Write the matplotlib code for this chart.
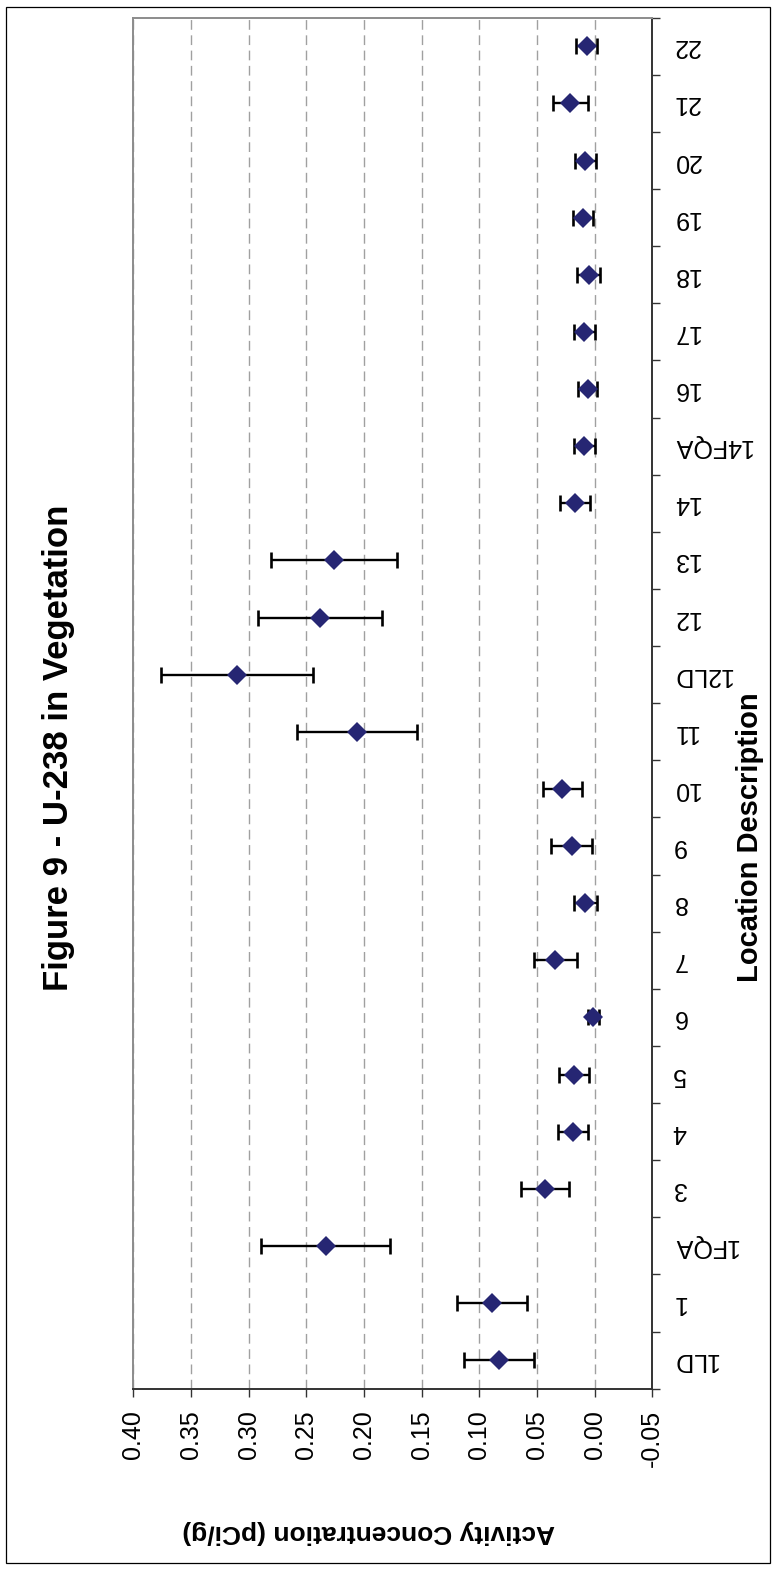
import numpy as np
import matplotlib
matplotlib.use("Agg")
from matplotlib import pyplot as plt
from matplotlib.patches import Rectangle

plt.rcParams["font.family"] = ["Liberation Sans", "DejaVu Sans"]

# sampling locations, bottom to top
locations = ["1LD", "1", "1FQA", "3", "4", "5", "6", "7", "8", "9", "10", "11",
             "12LD", "12", "13", "14", "14FQA", "16", "17", "18", "19", "20", "21", "22"]
# U-238 activity concentration (pCi/g) and its uncertainty
activity = [0.083, 0.089, 0.233, 0.043, 0.019, 0.018, 0.001, 0.034, 0.008, 0.020, 0.028, 0.206,
            0.310, 0.238, 0.226, 0.017, 0.009, 0.006, 0.009, 0.005, 0.010, 0.008, 0.021, 0.007]
uncertainty = [0.030, 0.030, 0.056, 0.021, 0.013, 0.013, 0.005, 0.019, 0.010, 0.018, 0.017, 0.052,
               0.066, 0.054, 0.055, 0.013, 0.009, 0.008, 0.009, 0.010, 0.009, 0.009, 0.015, 0.009]
value_ticks = [0.40, 0.35, 0.30, 0.25, 0.20, 0.15, 0.10, 0.05, 0.00, -0.05]

W, H = 776, 1570
fig = plt.figure(figsize=(W / 100, H / 100), dpi=100)

# page frame
fig.patches.append(Rectangle((6 / W, 1 - 1563 / H), (770 - 6) / W, (1563 - 7) / H,
                             transform=fig.transFigure, fill=False, edgecolor="black",
                             linewidth=0.9))

left, right, top, bottom = 133.3, 652.3, 17.7, 1388.7
ax = fig.add_axes([left / W, 1 - bottom / H, (right - left) / W, (bottom - top) / H])

pos = np.arange(len(locations))
ax.errorbar(activity, pos, xerr=uncertainty, fmt="none", ecolor="black", elinewidth=1.7,
            capsize=5.6, capthick=1.9, zorder=3)
ax.plot(activity, pos, linestyle="none", marker="D", color="#262673", markersize=10,
        markeredgewidth=0, zorder=4)

# value axis runs right to left
ax.set_xlim(0.40, -0.05)
ax.set_xticks(value_ticks)
ax.set_xticklabels([f"{v:.2f}" for v in value_ticks], rotation=90)
ax.tick_params(axis="x", direction="out", length=5.8, width=1.0, color="#333333",
               pad=9.5, labelsize=18)
ax.grid(axis="x", color="#a0a0a0", linestyle=(0, (7, 4)), linewidth=1.0)

# categories on the right, ticks between them
ax.set_ylim(-0.5, len(locations) - 0.5)
ax.yaxis.tick_right()
ax.set_yticks(np.arange(len(locations) + 1) - 0.5)
ax.set_yticklabels([])
ax.set_yticks(pos, minor=True)
ax.set_yticklabels(locations, minor=True, rotation=180, va="center")
ax.tick_params(axis="y", which="major", direction="out", length=5.8, width=1.0,
               color="#333333")
ax.tick_params(axis="y", which="minor", length=0, pad=14.5, labelsize=18)

for side in ("left", "top"):
    ax.spines[side].set_color("#8c8c8c")
    ax.spines[side].set_linewidth(1.4)
for side in ("right", "bottom"):
    ax.spines[side].set_color("#333333")
    ax.spines[side].set_linewidth(1.4)

fig.text(59 / W, 1 - 748 / H, "Figure 9 - U-238 in Vegetation", rotation=90,
         ha="center", va="center", fontsize=25, fontweight="bold")
fig.text(750 / W, 1 - 837 / H, "Location Description", rotation=90,
         ha="center", va="center", fontsize=21, fontweight="bold")
fig.text(369 / W, 1 - 1532 / H, "Activity Concentration (pCi/g)", rotation=180,
         ha="center", va="center", fontsize=19, fontweight="bold")

fig.savefig("out.png", dpi=100)
